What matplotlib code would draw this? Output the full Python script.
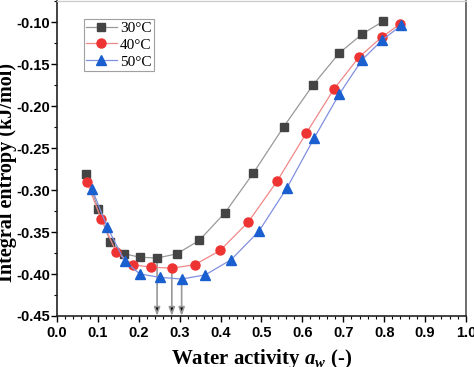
import matplotlib
matplotlib.use("Agg")
import matplotlib.pyplot as plt
import numpy as np
from matplotlib.ticker import MultipleLocator, FormatStrFormatter

x30 = [0.072, 0.101, 0.131, 0.165, 0.203, 0.245, 0.293, 0.348, 0.411, 0.480, 0.554, 0.626, 0.690, 0.747, 0.798]
y30 = [-0.281, -0.323, -0.362, -0.376, -0.380, -0.381, -0.376, -0.360, -0.327, -0.280, -0.225, -0.175, -0.137, -0.114, -0.099]

x40 = [0.073, 0.108, 0.145, 0.186, 0.231, 0.281, 0.337, 0.399, 0.468, 0.539, 0.610, 0.677, 0.738, 0.794, 0.840]
y40 = [-0.290, -0.334, -0.374, -0.389, -0.392, -0.393, -0.389, -0.372, -0.338, -0.289, -0.232, -0.180, -0.142, -0.118, -0.102]

x50 = [0.086, 0.123, 0.166, 0.203, 0.252, 0.305, 0.363, 0.426, 0.494, 0.563, 0.629, 0.690, 0.746, 0.796, 0.842]
y50 = [-0.299, -0.344, -0.385, -0.400, -0.404, -0.406, -0.401, -0.383, -0.349, -0.297, -0.238, -0.186, -0.145, -0.121, -0.104]

labels = ["30°C", "40°C", "50°C"]

plt.rcParams['mathtext.fontset'] = 'custom'
plt.rcParams['mathtext.it'] = 'Liberation Serif:italic:bold'
plt.rcParams['mathtext.rm'] = 'Liberation Serif:bold'
plt.rcParams['mathtext.bf'] = 'Liberation Serif:bold'

fig = plt.figure(figsize=(4.74, 3.67), dpi=100)
ax = fig.add_axes([0.120, 0.139, 0.863, 0.858])

series = [
    (x30, y30, 's', '#444444', '#999999', 5.5),
    (x40, y40, 'o', '#ee3333', '#f08888', 6.5),
    (x50, y50, '^', '#1a5fd0', '#8090e0', 7.0),
]
for (xs, ys, m, mc, lc, ms), lab in zip(series, labels):
    ax.plot(xs, ys, color=lc, lw=0.9, marker=m, markersize=ms,
            markerfacecolor=mc, markeredgecolor=mc, label=lab, zorder=3)

ymin_axis = -0.45
for (xs, ys, m, mc, lc, ms) in series:
    i = int(np.argmin(ys))
    ax.annotate('', xy=(xs[i], ymin_axis), xytext=(xs[i], ys[i]),
                arrowprops=dict(arrowstyle='-|>,head_length=0.5,head_width=0.18',
                                fc='black', ec='#999999', lw=1.2,
                                shrinkA=0, shrinkB=0), zorder=2)

ax.set_xlim(0.0, 1.0)
ax.set_ylim(-0.45, -0.075)
ax.xaxis.set_major_locator(MultipleLocator(0.1))
ax.xaxis.set_minor_locator(MultipleLocator(0.02))
ax.yaxis.set_major_locator(MultipleLocator(0.05))
ax.yaxis.set_minor_locator(MultipleLocator(0.025))
ax.xaxis.set_major_formatter(FormatStrFormatter('%.1f'))
ax.yaxis.set_major_formatter(FormatStrFormatter('%.2f'))
ax.tick_params(axis='both', which='major', direction='out', length=4, width=1.0,
               labelsize=10.5)
ax.tick_params(axis='y', which='major', pad=1)
ax.tick_params(axis='x', which='major', pad=3)
ax.tick_params(axis='both', which='minor', direction='out', length=2.5, width=0.8)
for lbl in ax.get_xticklabels() + ax.get_yticklabels():
    lbl.set_fontfamily('Liberation Sans')
    lbl.set_fontweight('bold')

for s in ['left', 'bottom']:
    ax.spines[s].set_color('#222222')
    ax.spines[s].set_linewidth(1.2)
ax.spines['right'].set_color('#555555')
ax.spines['right'].set_linewidth(1.2)
ax.spines['top'].set_color('#cccccc')
ax.spines['top'].set_linewidth(1.0)

ax.set_xlabel(r'Water activity $\mathit{a_w}$ (-)', fontfamily='Liberation Serif',
              fontweight='bold', fontsize=15, labelpad=5)
ax.set_ylabel('Integral entropy (kJ/mol)', fontfamily='Liberation Serif',
              fontweight='bold', fontsize=14.5)
ax.yaxis.set_label_coords(-0.097, 0.457)

leg = ax.legend(loc='upper left', bbox_to_anchor=(0.066, 0.943),
                prop={'family': 'Liberation Serif', 'size': 11},
                frameon=True, fancybox=False, edgecolor='#888888',
                handlelength=2.0, handletextpad=0.2, labelspacing=0.2,
                borderpad=0.15, borderaxespad=0.0)
leg.get_frame().set_linewidth(0.8)

fig.savefig('out.png', dpi=100)
